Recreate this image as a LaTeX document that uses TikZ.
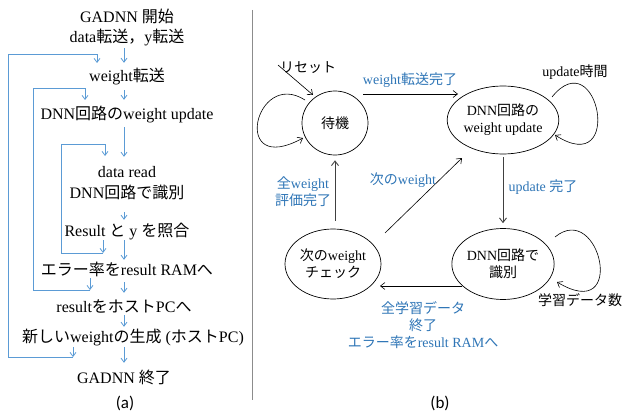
\documentclass[tikz,border=0pt]{standalone}
\usepackage{fontspec}
\setmainfont{Liberation Serif}
\newfontfamily\jpfont{Noto Sans CJK JP}
\newfontfamily\capfont{Carlito}
\newcommand\JA[1]{{\jpfont #1}}
\usetikzlibrary{arrows.meta,shapes.geometric,calc}
\definecolor{arrowblue}{RGB}{91,155,213}
\definecolor{labelblue}{RGB}{46,117,182}
\definecolor{divgray}{RGB}{140,140,140}
\tikzset{
  lt/.style={inner sep=0pt, text height=11pt, text depth=3pt, font=\fontsize{16}{19}\selectfont},
  barrow/.style={draw=arrowblue, line width=0.8pt, -{Straight Barb[length=4pt,width=6pt]}},
  st/.style={draw, ellipse, inner sep=0pt, line width=0.7pt, align=center, font=\fontsize{14}{17}\selectfont},
  karrow/.style={draw, line width=0.6pt, -{Straight Barb[length=4.5pt,width=7pt]}},
  varrow/.style={draw=black!75, line width=0.9pt, -{Straight Barb[length=4.5pt,width=7pt]}},
  blab/.style={text=labelblue, align=center, inner sep=0pt, font=\fontsize{14}{17}\selectfont},
  klab/.style={align=center, inner sep=0pt, font=\fontsize{14}{17}\selectfont},
  caplab/.style={inner sep=0pt, font=\capfont\fontsize{17}{20}\selectfont}
}
\begin{document}
\begin{tikzpicture}[x=1pt,y=-1pt]
\useasboundingbox (0,0) rectangle (622,412);
% ---------- (a) ----------
\coordinate (ax) at (124,0);
\node[lt] (t1) at (127,19) {GADNN \JA{開始}};
\node[lt] (t2) at (127,39) {data\JA{転送，}y\JA{転送}};
\node[lt] (t3) at (127,78) {weight\JA{転送}};
\node[lt] (t4) at (127,116) {DNN\JA{回路の}weight update};
\node[lt] (t5) at (127,174) {data read};
\node[lt] (t6) at (127,194) {DNN\JA{回路で識別}};
\node[lt] (t7) at (127,232) {Result \JA{と} y \JA{を照合}};
\node[lt] (t8) at (127,271) {\JA{エラー率を}result RAM\JA{へ}};
\node[lt] (t9) at (124,308) {result\JA{をホスト}PC\JA{へ}};
\node[lt] (t10) at (133,338) {\JA{新しい}weight\JA{の生成} (\JA{ホスト}PC)};
\node[lt] (t11) at (124,379) {GADNN \JA{終了}};
\node[caplab] (la) at (125,403) {(a)};

\draw[barrow, shorten <=2pt, shorten >=8pt] (t2.south -| ax) -- (t3.north -| ax);
\draw[barrow, shorten <=5pt, shorten >=9pt] (t3.south -| ax) -- (t4.north -| ax);
\draw[barrow, shorten <=4pt, shorten >=10pt] (t4.south -| ax) -- (t5.north -| ax);
\draw[barrow, shorten <=11pt, shorten >=5pt] (t6.south -| ax) -- (t7.north -| ax);
\draw[barrow, shorten <=1pt, shorten >=4pt] (t7.south -| ax) -- (t8.north -| ax);
\draw[barrow, shorten <=4pt, shorten >=8pt] (t8.south -| ax) -- (t9.north -| ax);
\draw[barrow, shorten <=0pt, shorten >=4pt] (t9.south -| ax) -- (t10.north -| ax);
\draw[barrow, shorten <=2pt, shorten >=9pt] (t10.south -| ax) -- (t11.north -| ax);

% loops
\draw[barrow] (103,240) -- (103,253);
\draw[barrow] (103,253) -- (61,253) -- (61,144) -- (105,144) -- (105,156);
\draw[barrow] (90,278) -- (90,290);
\draw[barrow] (90,290) -- (33,290) -- (33,88) -- (85,88) -- (85,100);
\draw[barrow] (73,347) -- (73,357);
\draw[barrow] (73,357) -- (8,357) -- (8,54) -- (97,54) -- (97,63);

% divider
\draw[divgray, line width=1pt] (252,10) -- (252,400);

% ---------- (b) ----------
\node[st, minimum width=66pt, minimum height=64pt] (s1) at (335,123) {\JA{待機}};
\node[st, minimum width=101pt, minimum height=68pt] (s2) at (503,120) {DNN\JA{回路の}\\weight update};
\node[st, minimum width=87pt, minimum height=71pt] (s3) at (503,264) {DNN\JA{回路で}\\\JA{識別}};
\node[st, minimum width=96pt, minimum height=70pt] (s4) at (333,264) {\JA{次の}weight\\\JA{チェック}};

\draw[karrow] ([shift={(28,-29)}]s1.center) -- ([shift={(-45,-26)}]s2.center);
\draw[varrow, shorten <=3pt, shorten >=5pt] (s2.south) -- (s3.north);
\draw[karrow] ([shift={(-41,22)}]s3.center) -- ([shift={(47,22)}]s4.center);
\draw[karrow] ([shift={(52,-31)}]s4.center) -- ([shift={(-41,38)}]s2.center);
\draw[varrow, shorten <=8pt, shorten >=5pt] (s1.south |- s4.north) -- (s1.south);

% self loops
\draw[karrow] ([shift={(-30,-23)}]s1.center) .. controls (255,68) and (230,178) .. ([shift={(-32,15)}]s1.center);
\draw[karrow] ([shift={(49,-23)}]s2.center) .. controls (598,40) and (625,180) .. ([shift={(52,15)}]s2.center);
\draw[karrow] ([shift={(52,-27)}]s3.center) .. controls (600,200) and (628,325) .. ([shift={(54,18)}]s3.center);

% reset
\node[klab] (rs) at (308,68) {\JA{リセット}};
\coordinate (rstart) at (278,65);
\draw[karrow] (rstart) -- ([shift={(-22,-28)}]s1.center);

% labels
\node[blab] (l1) at (410,80) {weight\JA{転送完了}};
\node[blab] (l2) at (543,187) {update \JA{完了}};
\node[blab] (l3) at (403,180) {\JA{次の}weight};
\node[blab] (l4) at (303,192) {\JA{全}weight\\\JA{評価完了}};
\node[blab] (l5) at (423,325) {\JA{全学習データ}\\\JA{終了}\\\JA{エラー率を}result RAM\JA{へ}};
\node[klab] (k1) at (575,72) {update\JA{時間}};
\node[klab] (k2) at (580,300) {\JA{学習データ数}};
\node[caplab] (lb) at (440,403) {(b)};
\end{tikzpicture}
\end{document}
